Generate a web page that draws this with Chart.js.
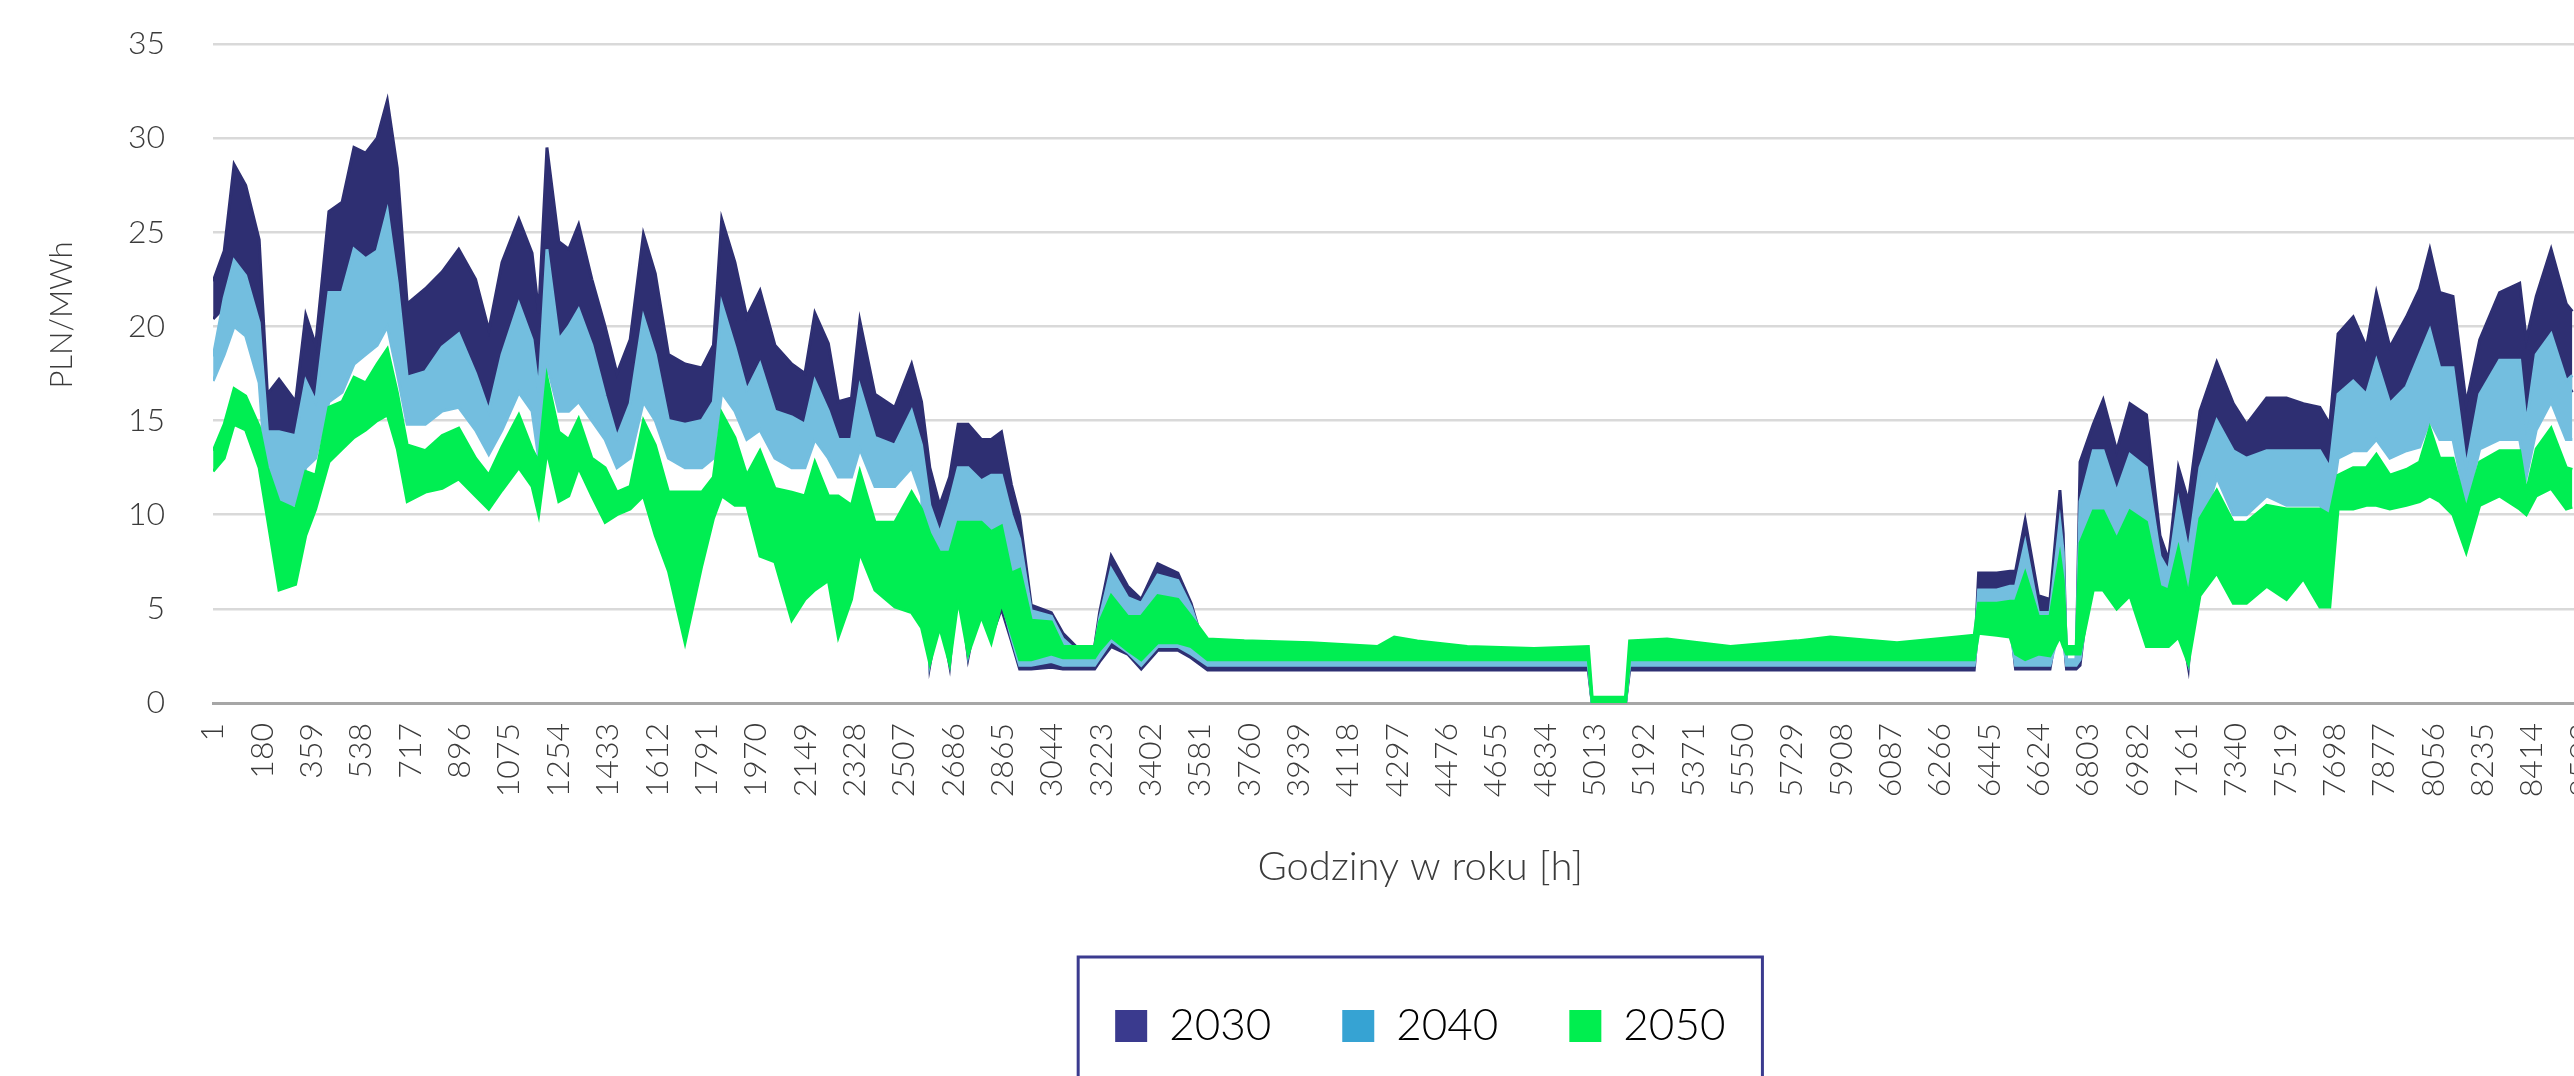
<!DOCTYPE html>
<html lang="pl">
<head>
<meta charset="utf-8">
<title>PLN/MWh – godziny w roku</title>
<script src="https://cdn.jsdelivr.net/npm/chart.js@4.4.1/dist/chart.umd.min.js"></script>
<style>
  html, body { margin: 0; padding: 0; background: #fff; overflow: hidden; }
  #wrap { width: 2640px; height: 1076px; }
</style>
</head>
<body>
<div id="wrap"><canvas id="chart" width="2640" height="1076"></canvas></div>
<script>
/* ---------- data (hour of year) ---------- */
var hours = [
  1, 41, 77, 119, 168, 198, 240, 300, 337, 373,
  421, 469, 512, 554, 596, 633, 669, 705, 771, 832,
  892, 953, 1001, 1049, 1110, 1158, 1182, 1212, 1255, 1291,
  1327, 1375, 1423, 1466, 1514, 1562, 1605, 1653, 1713, 1774,
  1816, 1846, 1894, 1937, 1985, 2039, 2100, 2148, 2184, 2233,
  2269, 2317, 2347, 2402, 2474, 2535, 2571, 2601, 2637, 2673,
  2704, 2740, 2788, 2824, 2861, 2897, 2927, 2969, 3042, 3084,
  3138, 3199, 3217, 3259, 3319, 3368, 3428, 3501, 3549, 3609,
  3742, 3984, 4225, 4286, 4370, 4551, 4793, 4990, 5004, 5125,
  5140, 5276, 5506, 5747, 5868, 6110, 6327, 6390, 6406, 6472,
  6520, 6540, 6575, 6623, 6665, 6701, 6713, 6725, 6760, 6774,
  6822, 6858, 6907, 6955, 7015, 7064, 7095, 7131, 7167, 7209,
  7270, 7330, 7378, 7451, 7523, 7584, 7644, 7680, 7710, 7765,
  7813, 7849, 7898, 7958, 8006, 8043, 8079, 8127, 8175, 8224,
  8296, 8369, 8393, 8429, 8483, 8538, 8560
];

// upper / lower edge of each year's daily band
var hi2030 = [
  22.4, 24.0, 28.6, 27.5, 24.6, 16.4, 17.2, 16.0, 20.6, 19.0,
  26.1, 26.6, 29.5, 29.2, 30.0, 32.0, 28.4, 21.2, 22.0, 22.9,
  24.1, 22.5, 19.8, 23.4, 25.7, 23.9, 20.7, 29.5, 24.5, 24.1,
  25.4, 22.5, 20.0, 17.5, 19.3, 24.9, 22.8, 18.5, 18.0, 17.8,
  19.0, 25.7, 23.4, 20.5, 21.9, 19.0, 18.0, 17.5, 20.7, 19.1,
  16.0, 16.2, 20.3, 16.4, 15.7, 18.0, 16.0, 12.5, 10.5, 12.0,
  14.8, 14.8, 14.0, 14.0, 14.4, 11.6, 9.9, 5.2, 4.8, 3.7,
  2.9, 3.0, 4.8, 7.8, 6.2, 5.5, 7.4, 6.9, 5.3, 2.3,
  2.1, 2.1, 2.1, 2.1, 2.1, 2.1, 2.1, 2.1, 0, 0,
  2.1, 2.1, 2.1, 2.1, 2.1, 2.1, 2.1, 2.1, 6.9, 6.9,
  7.0, 7.0, 9.7, 5.7, 5.5, 11.3, 9.0, 2.0, 2.0, 12.8,
  14.8, 16.1, 13.4, 15.9, 15.3, 8.9, 7.6, 12.5, 10.7, 15.5,
  18.1, 15.9, 14.8, 16.2, 16.2, 15.9, 15.7, 14.8, 19.6, 20.5,
  18.9, 21.8, 18.9, 20.5, 22.0, 24.1, 21.8, 21.6, 15.9, 19.3,
  21.8, 22.3, 19.3, 21.6, 24.1, 21.2, 20.8
];
var lo2030 = [
  20.4, 21.0, 23.0, 22.5, 19.5, 13.5, 13.5, 13.0, 16.0, 15.0,
  20.5, 20.5, 23.0, 22.5, 23.0, 25.0, 21.5, 16.5, 17.0, 18.0,
  18.5, 17.0, 15.0, 18.0, 20.0, 18.5, 16.0, 23.0, 18.5, 19.0,
  20.0, 18.0, 15.5, 13.5, 15.0, 19.0, 17.5, 14.0, 14.0, 14.0,
  15.0, 19.5, 18.0, 16.0, 17.0, 15.0, 14.0, 14.0, 16.0, 15.0,
  13.0, 13.0, 15.5, 13.0, 12.5, 14.0, 12.5, 2.0, 5.0, 2.0,
  7.0, 2.4, 6.0, 3.5, 5.0, 3.3, 1.8, 1.8, 1.9, 1.8,
  1.8, 1.8, 2.2, 3.0, 2.6, 1.8, 2.8, 2.8, 2.4, 1.75,
  1.75, 1.75, 1.75, 1.75, 1.75, 1.75, 1.75, 1.75, 0, 0,
  1.75, 1.75, 1.75, 1.75, 1.75, 1.75, 1.75, 1.75, 4.5, 4.5,
  4.5, 1.8, 1.8, 1.8, 1.8, 5.0, 4.0, 1.8, 1.8, 2.0,
  8.0, 9.0, 7.0, 8.0, 6.0, 4.0, 4.0, 5.0, 1.9, 10.0,
  13.0, 11.0, 11.0, 12.0, 12.0, 12.0, 12.0, 11.0, 15.0, 16.0,
  15.0, 17.0, 15.0, 16.0, 17.0, 18.5, 17.0, 17.0, 12.0, 15.0,
  17.0, 17.0, 15.0, 17.0, 18.5, 17.0, 16.5
];
var hi2040 = [
  18.4, 21.5, 23.5, 22.7, 20.2, 14.4, 14.4, 14.2, 17.1, 16.0,
  21.8, 21.8, 24.1, 23.6, 24.0, 26.1, 22.3, 17.3, 17.6, 18.9,
  19.6, 17.5, 15.5, 18.5, 21.2, 19.3, 16.5, 24.1, 19.3, 20.0,
  20.9, 19.0, 16.3, 14.1, 15.9, 20.5, 18.5, 15.0, 14.8, 15.0,
  16.0, 21.2, 18.9, 16.6, 18.0, 15.5, 15.2, 14.8, 17.1, 15.5,
  14.0, 14.0, 16.8, 14.1, 13.7, 15.5, 13.7, 10.5, 9.0, 10.7,
  12.5, 12.5, 11.8, 12.1, 12.1, 10.0, 8.7, 4.9, 4.6, 3.4,
  2.7, 2.8, 4.5, 7.1, 5.6, 5.3, 6.8, 6.5, 5.1, 2.5,
  2.5, 2.5, 2.5, 2.5, 2.5, 2.5, 2.5, 2.5, 0, 0,
  2.5, 2.5, 2.5, 2.5, 2.5, 2.5, 2.5, 2.5, 6.0, 6.0,
  6.2, 6.2, 8.5, 4.8, 4.8, 9.6, 8.0, 2.3, 2.3, 10.7,
  13.4, 13.4, 11.2, 13.2, 12.5, 7.8, 7.0, 10.7, 8.0, 12.5,
  15.0, 13.4, 13.0, 13.4, 13.4, 13.4, 13.4, 12.5, 16.4, 17.1,
  16.4, 18.2, 15.9, 16.8, 18.5, 19.8, 17.8, 17.8, 12.5, 16.4,
  18.2, 18.2, 14.8, 18.5, 19.6, 17.1, 17.4
];
var lo2040 = [
  17.1, 18.5, 20.0, 19.5, 17.0, 11.0, 10.5, 10.5, 12.5, 13.0,
  16.0, 16.5, 18.0, 18.5, 19.0, 20.0, 17.5, 14.8, 14.8, 15.5,
  15.7, 14.5, 13.2, 14.5, 16.5, 15.5, 13.0, 18.0, 15.5, 15.5,
  16.0, 15.0, 14.0, 12.5, 13.0, 16.0, 15.0, 13.0, 12.5, 12.5,
  13.0, 16.5, 15.5, 14.0, 14.5, 13.0, 12.5, 12.5, 14.0, 13.0,
  12.0, 12.0, 13.5, 11.5, 11.5, 12.5, 11.0, 2.2, 5.0, 2.2,
  7.0, 2.6, 6.0, 4.0, 5.5, 3.5, 2.0, 2.0, 2.2, 2.0,
  2.0, 2.0, 2.4, 3.3, 2.7, 2.0, 3.0, 3.0, 2.6, 2.0,
  2.0, 2.0, 2.0, 2.0, 2.0, 2.0, 2.0, 2.0, 0, 0,
  2.0, 2.0, 2.0, 2.0, 2.0, 2.0, 2.0, 2.0, 4.0, 4.0,
  4.0, 2.0, 2.0, 2.0, 2.0, 4.0, 3.5, 2.0, 2.0, 2.3,
  7.0, 7.0, 6.0, 7.0, 5.0, 3.5, 3.5, 4.0, 2.1, 9.0,
  12.0, 10.0, 10.0, 11.0, 10.5, 10.5, 10.5, 10.0, 13.0, 13.4,
  13.4, 14.0, 13.0, 13.4, 13.6, 15.0, 14.0, 14.0, 10.5, 13.5,
  14.0, 14.0, 12.0, 14.5, 16.0, 14.0, 14.0
];
var hi2050 = [
  13.4, 14.8, 16.7, 16.3, 14.7, 12.5, 10.7, 10.3, 12.3, 12.1,
  15.7, 16.0, 17.3, 17.0, 18.0, 18.8, 16.5, 13.7, 13.4, 14.2,
  14.6, 13.0, 12.1, 13.6, 15.3, 13.5, 12.8, 17.3, 14.4, 14.0,
  15.1, 13.0, 12.5, 11.2, 11.5, 15.0, 13.7, 11.2, 11.2, 11.2,
  12.0, 15.4, 14.1, 12.1, 13.4, 11.4, 11.2, 11.0, 12.8, 11.0,
  11.0, 10.5, 12.3, 9.6, 9.6, 11.2, 10.3, 9.0, 8.0, 8.0,
  9.6, 9.6, 9.6, 9.1, 9.4, 6.9, 7.1, 4.4, 4.3, 3.0,
  3.0, 3.0, 4.3, 5.7, 4.6, 4.6, 5.7, 5.5, 4.6, 3.4,
  3.3, 3.2, 3.0, 3.5, 3.3, 3.0, 2.9, 3.0, 0.3, 0.3,
  3.3, 3.4, 3.0, 3.3, 3.5, 3.2, 3.5, 3.6, 5.3, 5.3,
  5.4, 5.4, 6.9, 4.6, 4.6, 7.8, 6.5, 3.0, 3.0, 8.5,
  10.2, 10.2, 8.7, 10.2, 9.6, 6.2, 6.0, 8.2, 5.7, 9.8,
  11.3, 9.6, 9.6, 10.5, 10.3, 10.3, 10.3, 10.0, 12.1, 12.5,
  12.5, 13.2, 12.1, 12.4, 12.8, 14.6, 13.0, 13.0, 10.3, 12.8,
  13.4, 13.4, 11.2, 13.5, 14.6, 12.5, 12.4
];
var lo2050 = [
  12.3, 13.0, 14.8, 14.5, 12.5, 9.8, 6.0, 6.3, 8.9, 10.3,
  12.8, 13.5, 14.1, 14.5, 15.0, 15.3, 13.5, 10.7, 11.2, 11.4,
  11.9, 11.0, 10.3, 11.3, 12.5, 11.5, 10.0, 13.4, 10.7, 11.0,
  12.5, 11.0, 9.6, 10.0, 10.3, 11.0, 8.9, 7.0, 3.2, 7.3,
  9.8, 11.0, 10.5, 10.5, 7.8, 7.5, 4.4, 5.5, 6.0, 6.5,
  3.5, 5.5, 8.0, 6.0, 5.1, 4.8, 4.0, 2.1, 4.0, 2.1,
  5.5, 2.6, 4.6, 3.2, 5.3, 3.7, 2.3, 2.3, 2.6, 2.4,
  2.4, 2.4, 2.8, 3.5, 2.8, 2.3, 3.2, 3.2, 3.0, 2.3,
  2.3, 2.3, 2.3, 2.3, 2.3, 2.3, 2.3, 2.3, 0, 0,
  2.3, 2.3, 2.3, 2.3, 2.3, 2.3, 2.3, 2.3, 3.7, 3.6,
  3.5, 2.6, 2.3, 2.6, 2.5, 3.5, 3.0, 2.6, 2.6, 2.6,
  6.0, 6.0, 5.0, 5.7, 3.0, 3.0, 3.0, 3.5, 2.1, 5.7,
  6.9, 5.3, 5.3, 6.2, 5.5, 6.6, 5.1, 5.1, 10.3, 10.3,
  10.5, 10.5, 10.3, 10.5, 10.7, 11.0, 10.7, 10.0, 8.0, 10.5,
  11.0, 10.3, 10.0, 11.0, 11.4, 10.3, 10.4
];

// category labels shown under the axis (every 179th hour)
var tickHours = [
  1, 180, 359, 538, 717, 896, 1075, 1254, 1433, 1612,
  1791, 1970, 2149, 2328, 2507, 2686, 2865, 3044, 3223, 3402,
  3581, 3760, 3939, 4118, 4297, 4476, 4655, 4834, 5013, 5192,
  5371, 5550, 5729, 5908, 6087, 6266, 6445, 6624, 6803, 6982,
  7161, 7340, 7519, 7698, 7877, 8056, 8235, 8414, 8593
];

var years = ["2030", "2040", "2050"];

/* ---------- look ---------- */
var FONT = "Lato, 'Open Sans', sans-serif";
var INK = "#3b3b3b";
var bandCol = ["#2e2f72", "#73bedf", "#00ee52"];
var swatchCol = ["#3a3a8e", "#36a3d3", "#00ee4f"];
var lows = [lo2030, lo2040, lo2050];
var highs = [hi2030, hi2040, hi2050];

function pts(arr) {
  return hours.map(function (h, i) { return { x: h, y: arr[i] }; });
}

// each year = lower edge line + upper edge line filled down to it
var datasets = [];
years.forEach(function (y, i) {
  var col = bandCol[i];
  var order = 3 - i; // 2050 drawn last (on top)
  datasets.push({
    label: y + " min", data: pts(lows[i]),
    borderColor: col, borderWidth: 3, pointRadius: 0, tension: 0,
    fill: false, order: order
  });
  datasets.push({
    label: y, data: pts(highs[i]),
    borderColor: col, backgroundColor: col, borderWidth: 3, pointRadius: 0, tension: 0,
    fill: "-1", order: order
  });
});

// frame round the legend + the unit label, placed like the original
var extras = {
  id: "extras",
  afterDraw: function (chart) {
    var ctx = chart.ctx;
    var hb = chart.legend && chart.legend.legendHitBoxes;
    if (hb && hb.length) {
      var last = hb[hb.length - 1];
      var left = hb[0].left - 37;
      var right = last.left + last.width + 37;
      var cy = hb[0].top + hb[0].height / 2;
      ctx.save();
      ctx.strokeStyle = "#3b3b8f";
      ctx.lineWidth = 3;
      ctx.strokeRect(left, cy - 69, right - left, 138);
      ctx.restore();
    }
    ctx.save();
    ctx.translate(62, 315);
    ctx.rotate(-Math.PI / 2);
    ctx.font = "300 31px " + FONT;
    ctx.fillStyle = INK;
    ctx.textAlign = "center";
    ctx.textBaseline = "middle";
    ctx.fillText("PLN/MWh", 0, 0);
    ctx.restore();
  }
};

new Chart(document.getElementById("chart"), {
  type: "line",
  data: { datasets: datasets },
  plugins: [extras],
  options: {
    responsive: false,
    animation: false,
    devicePixelRatio: 1,
    events: [],
    layout: { padding: { top: 44, right: 9, bottom: 18, left: 0 } },
    plugins: {
      tooltip: { enabled: false },
      legend: {
        position: "bottom",
        fullSize: false,
        labels: {
          color: INK,
          font: { family: FONT, size: 44, weight: 300 },
          boxWidth: 32,
          boxHeight: 32,
          padding: 71,
          generateLabels: function () {
            return years.map(function (y, i) {
              return {
                text: y, fillStyle: swatchCol[i], strokeStyle: swatchCol[i],
                lineWidth: 0, hidden: false, datasetIndex: i * 2 + 1
              };
            });
          }
        }
      }
    },
    scales: {
      x: {
        type: "linear",
        min: 0.5,
        max: 8760.5,
        grid: { display: false, drawTicks: false },
        border: { display: true, color: "#a6a6a6", width: 3 },
        afterBuildTicks: function (scale) {
          scale.ticks = tickHours.map(function (v) { return { value: v }; });
        },
        afterFit: function (scale) { scale.height = 230; },
        ticks: {
          autoSkip: false,
          maxRotation: 90,
          minRotation: 90,
          padding: 20,
          color: INK,
          font: { family: FONT, size: 32, weight: 300 },
          callback: function (v) { return String(v); }
        },
        title: {
          display: true,
          text: "Godziny w roku [h]",
          color: INK,
          font: { family: FONT, size: 40, weight: 300 },
          padding: { top: 0, bottom: 42 }
        }
      },
      y: {
        min: 0,
        max: 35,
        grid: { color: "#d9d9d9", lineWidth: 2.5, drawTicks: false },
        border: { display: false },
        afterFit: function (scale) {
          scale.width = 213;
          // keep the big label gap from pushing the plot down
          scale.paddingTop = 20;
          scale.paddingBottom = 20;
        },
        ticks: {
          stepSize: 5,
          padding: 48,
          color: INK,
          font: { family: FONT, size: 32, weight: 300 }
        }
      }
    }
  }
});
</script>
</body>
</html>
